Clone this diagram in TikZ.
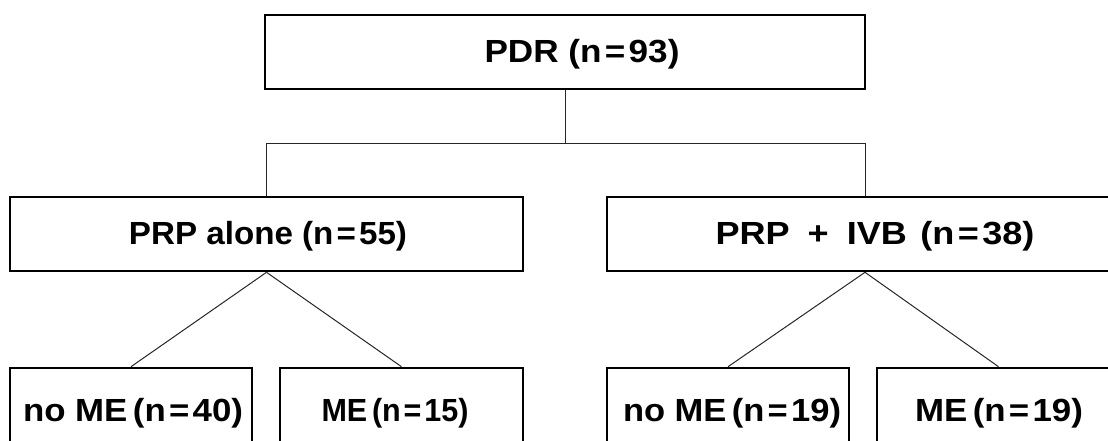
\documentclass[tikz,border=0pt]{standalone}
\usepackage{fontspec}
\setmainfont{Liberation Sans}
\usepackage{graphicx}
\newcommand{\fitw}[2]{\resizebox{#1pt}{\height}{#2}}
\newcommand{\eqs}{\hspace{3pt}=\hspace{3pt}}
\begin{document}
\begin{tikzpicture}[x=1pt,y=-1pt,
  box/.style={draw=black, line width=2.6pt, rectangle, inner sep=0pt, minimum height=74pt},
  lowbox/.style={draw=black, line width=2.6pt, rectangle, inner sep=0pt, minimum height=102pt},
  conn/.style={draw=black!85, line width=1pt},
  lbl/.style={font=\fontsize{32}{36}\selectfont\bfseries, inner sep=0pt}]
\useasboundingbox (0,0) rectangle (1108,440);
\clip (0,0) rectangle (1108,440);
% boxes
\node[box, minimum width=600pt] (top) at (565,52) {};
\node[box, minimum width=513pt] (midL) at (266.5,234) {};
\node[box, minimum width=516pt] (midR) at (865,234) {};
\node[lowbox, minimum width=242pt] (botLa) at (131,419) {};
\node[lowbox, minimum width=243pt] (botLb) at (401.5,419) {};
\node[lowbox, minimum width=242pt] (botRa) at (728,419) {};
\node[lowbox, minimum width=243pt] (botRb) at (998.5,419) {};
% labels
\node[lbl] (tTop) at (582,54) {\fitw{195}{PDR (n\eqs 93)}};
\node[lbl] (tMidL) at (268,236) {\fitw{278}{PRP alone (n\eqs 55)}};
\node[lbl] (tMidR) at (875,236) {\fitw{319}{PRP\hspace{16pt}+\hspace{16pt}IVB\hspace{12pt}(n\eqs 38)}};
\node[lbl] (tLa) at (133,413) {\fitw{220}{no ME\hspace{5pt}(n\eqs 40)}};
\node[lbl] (tLb) at (395,413) {\fitw{147}{ME\hspace{5pt}(n\eqs 15)}};
\node[lbl] (tRa) at (732,413) {\fitw{218}{no ME\hspace{5pt}(n\eqs 19)}};
\node[lbl] (tRb) at (999,413) {\fitw{168}{ME\hspace{5pt}(n\eqs 19)}};
% connectors
\coordinate (j) at (566,143);
\draw[conn] (top.south) -- (top.south |- j);
\draw[conn] (midL.north) -- (midL.north |- j) -- (midR.north |- j) -- (midR.north);
\draw[conn] (midL.south) -- (botLa.north);
\draw[conn] (midL.south) -- (botLb.north);
\draw[conn] (midR.south) -- (botRa.north);
\draw[conn] (midR.south) -- (botRb.north);
\end{tikzpicture}
\end{document}
